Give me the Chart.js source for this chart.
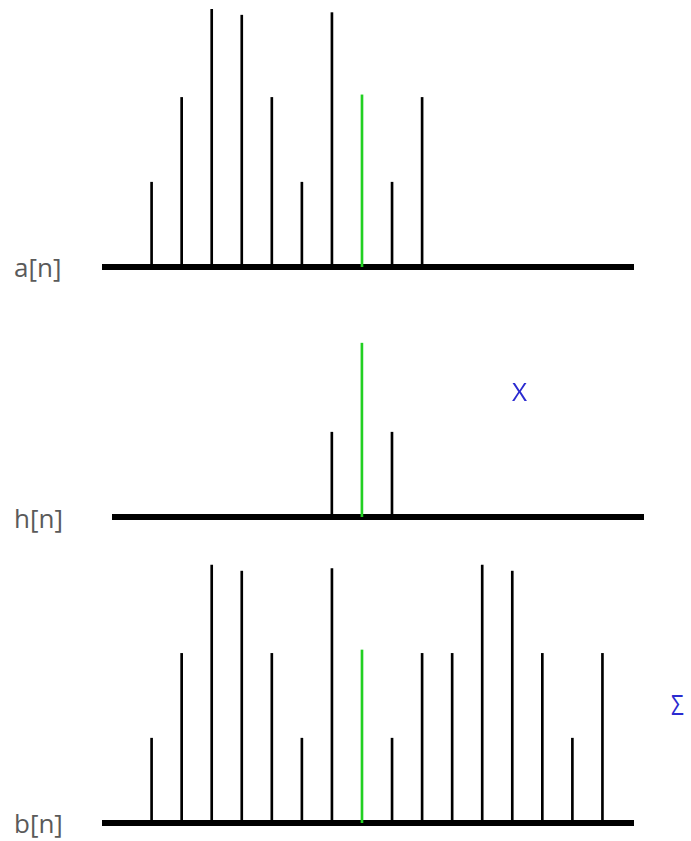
<!DOCTYPE html>
<html>
<head>
<meta charset="utf-8">
<script src="https://cdn.jsdelivr.net/npm/chart.js@4.4.1/dist/chart.umd.min.js"></script>
<style>
  html, body { margin: 0; padding: 0; background: #ffffff; }
  body { width: 691px; height: 841px; position: relative; overflow: hidden; }
  canvas { position: absolute; }
  .lbl { position: absolute; font-family: "Open Sans", sans-serif; font-size: 26px; color: #5a5a5a; line-height: 1; white-space: nowrap; }
  .op { position: absolute; font-family: "Open Sans", sans-serif; font-size: 26px; color: #2b2bd0; line-height: 1; transform-origin: left top; }
</style>
</head>
<body>
<canvas id="cA" width="532" height="274" style="left:102px;top:0px;"></canvas>
<canvas id="cH" width="532" height="224" style="left:112px;top:300px;"></canvas>
<canvas id="cB" width="532" height="280" style="left:102px;top:550px;"></canvas>
<div class="lbl" id="lA" style="left:14px;top:254px;"></div>
<div class="lbl" id="lH" style="left:14px;top:505px;"></div>
<div class="lbl" id="lB" style="left:14px;top:810px;"></div>
<div class="op" id="opX" style="left:512px;top:378px;"></div>
<div class="op" id="opS" style="left:671px;top:690px;font-size:28px;transform:scaleX(0.8);"></div>
<script>
// ---- data ----
const seriesLabels = ['a[n]', 'h[n]', 'b[n]'];
const operatorLabels = ['X', 'Σ'];

const aIndex  = [-7, -6, -5, -4, -3, -2, -1, 0, 1, 2];
const aValues = [1, 2, 3.04, 2.97, 2, 1, 3.0, 2.03, 1, 2];

const hIndex  = [-1, 0, 1];
const hValues = [1, 2.05, 1];

const bIndex  = [-7, -6, -5, -4, -3, -2, -1, 0, 1, 2, 3, 4, 5, 6, 7, 8];
const bValues = [1, 2, 3.04, 2.97, 2, 1, 3.0, 2.04, 1, 2, 2, 3.04, 2.97, 2, 1, 2];

// ---- styles ----
const BLACK = '#000000';
const GREEN = '#22d022';

document.getElementById('lA').textContent = seriesLabels[0];
document.getElementById('lH').textContent = seriesLabels[1];
document.getElementById('lB').textContent = seriesLabels[2];
document.getElementById('opX').textContent = operatorLabels[0];
document.getElementById('opS').textContent = operatorLabels[1];

function stemChart(id, idx, vals, xMin, xMax, yMax) {
  const pts = idx.map((n, i) => ({ x: n, y: vals[i] }));
  return new Chart(document.getElementById(id), {
    type: 'bar',
    data: {
      datasets: [{
        data: pts,
        backgroundColor: ctx => (ctx.raw && ctx.raw.x === 0 ? GREEN : BLACK),
        borderWidth: 0,
        barThickness: 2
      }]
    },
    options: {
      responsive: false,
      animation: false,
      layout: { padding: { top: 0, left: 0, right: 0, bottom: 7 } },
      plugins: { legend: { display: false }, tooltip: { enabled: false } },
      scales: {
        x: {
          type: 'linear',
          min: xMin, max: xMax,
          offset: false,
          grid: { display: false, drawTicks: false },
          ticks: { display: false },
          border: { display: true, color: BLACK, width: 6 }
        },
        y: {
          display: false,
          min: 0, max: yMax
        }
      }
    }
  });
}

stemChart('cA', aIndex, aValues, -8.65, 9.05, 3.149);
stemChart('cH', hIndex, hValues, -8.31, 9.38, 2.559);
stemChart('cB', bIndex, bValues, -8.65, 9.05, 3.219);
</script>
</body>
</html>
